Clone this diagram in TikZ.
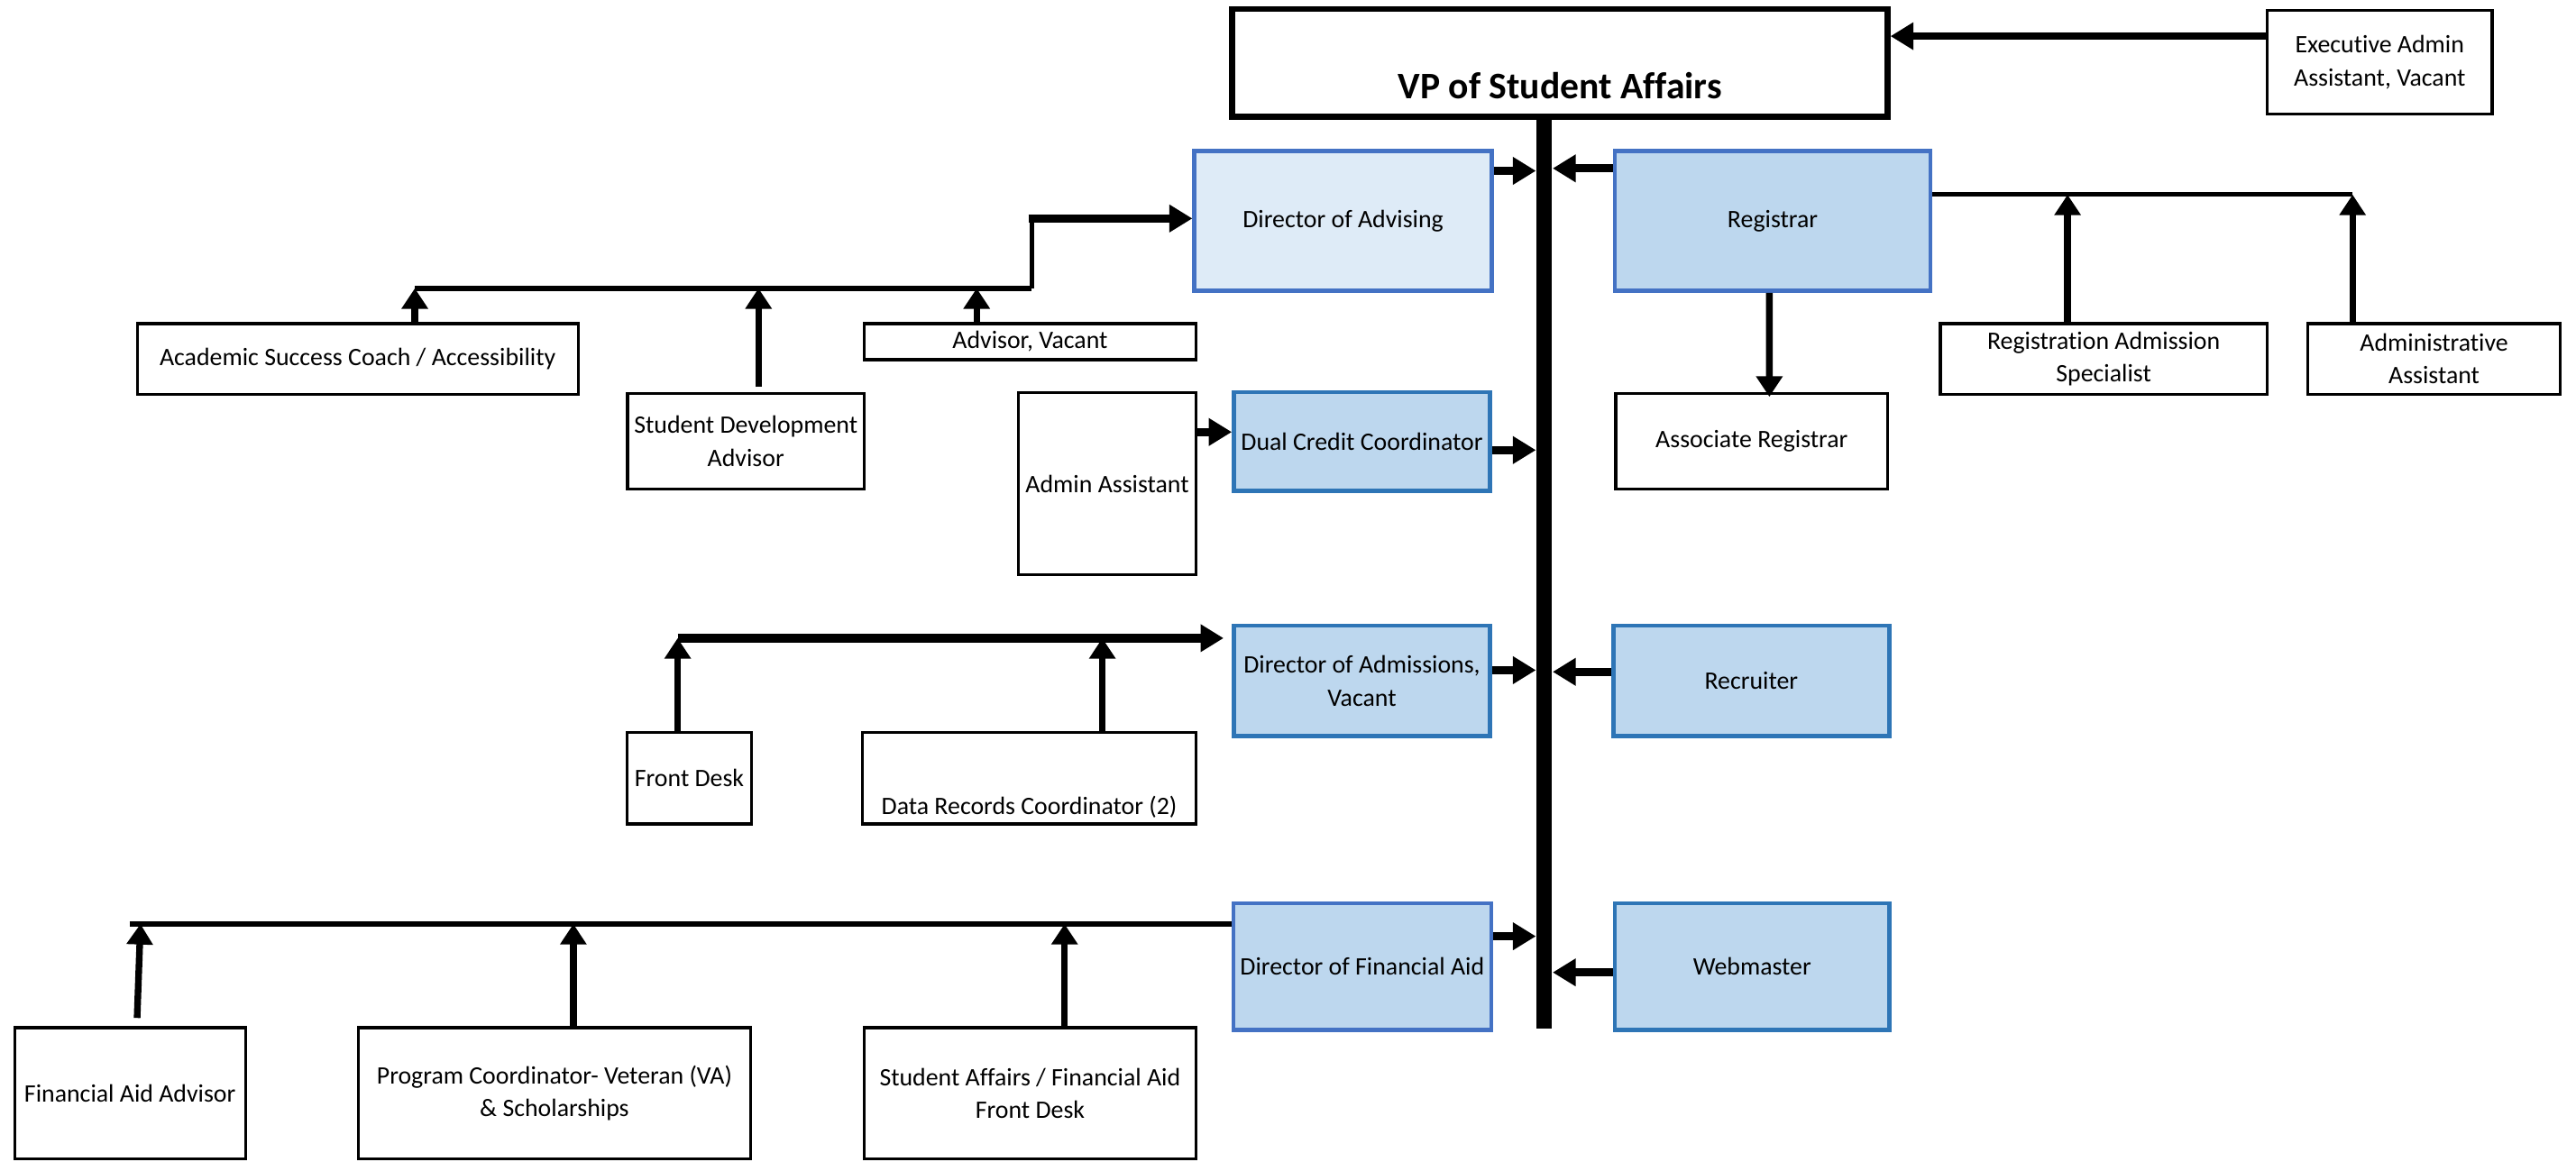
\documentclass[tikz,border=0pt]{standalone}
\usepackage{fontspec}
\setmainfont{Carlito}[Ligatures=NoCommon]
\usetikzlibrary{arrows.meta}
\definecolor{edgeblue}{HTML}{4472C4}
\definecolor{edgeteal}{HTML}{2E75B6}
\definecolor{paleblue}{HTML}{DEEBF7}
\definecolor{softblue}{HTML}{BDD7EE}
\newcommand{\boxfont}{\fontsize{8.7}{11.4}\selectfont}
\tikzset{
  post/.style={draw, line width=1pt, inner sep=0pt, align=center, font=\boxfont},
  lead/.style={post, line width=1.4pt, draw=edgeblue, fill=softblue},
  leadteal/.style={lead, draw=edgeteal},
  feed/.style={line width=2.7pt, -{Triangle[length=0.28cm,width=0.32cm]}},
  rise/.style={line width=2.3pt, -{Triangle[length=0.25cm,width=0.31cm]}},
  rail/.style={line width=1.6pt}
}
\begin{document}
\begin{tikzpicture}[x=0.02cm, y=-0.02cm]
	\useasboundingbox (0,0) rectangle (1568,707.4);
	% top
	\node [post, line width=2pt, minimum width=7.98cm, minimum height=1.31cm, font=\fontsize{13}{15}\selectfont\bfseries, text height=0.87cm, text depth=0pt] (vp) at (949.5,38.25) {VP of Student Affairs};
	\node [post, minimum width=2.74cm, minimum height=1.26cm] (exec) at (1448.5,38) {Executive Admin\\Assistant, Vacant};
	\node [fill, inner sep=0pt, minimum width=0.19cm, minimum height=11.1cm] (spine) at (940,348.5) {};
	% directors and staff on the line
	\node [lead, fill=paleblue, minimum width=3.62cm, minimum height=1.7cm] (diradv) at (817.5,134.5) {Director of Advising};
	\node [lead, minimum width=3.84cm, minimum height=1.7cm] (reg) at (1079,134.5) {Registrar};
	\node [leadteal, minimum width=3.12cm, minimum height=1.2cm] (dcc) at (829,268.7) {Dual Credit Coordinator};
	\node [leadteal, minimum width=3.12cm, minimum height=1.34cm] (diradm) at (829,414.5) {Director of Admissions,\\Vacant};
	\node [leadteal, minimum width=3.36cm, minimum height=1.34cm] (rec) at (1066,414.5) {Recruiter};
	\node [lead, minimum width=3.14cm, minimum height=1.54cm] (dfa) at (829.2,588.5) {Director of Financial Aid};
	\node [leadteal, minimum width=3.34cm, minimum height=1.54cm] (web) at (1066.5,588.5) {Webmaster};
	% registrar side
	\node [post, minimum width=3.98cm, minimum height=0.86cm] (ras) at (1280.5,218.5) {Registration Admission\\Specialist};
	\node [post, minimum width=3.08cm, minimum height=0.86cm] (aa) at (1481.6,218.5) {Administrative\\Assistant};
	\node [post, minimum width=3.31cm, minimum height=1.17cm] (areg) at (1066.25,268.7) {Associate Registrar};
	% advising side
	\node [post, minimum width=5.37cm, minimum height=0.86cm] (asc) at (217.7,218.5) {Academic Success Coach / Accessibility};
	\node [post, minimum width=2.88cm, minimum height=1.17cm] (sda) at (454,268.7) {Student Development\\Advisor};
	\node [post, minimum width=4.04cm, minimum height=0.44cm] (av) at (627,208) {Advisor, Vacant};
	\node [post, minimum width=2.16cm, minimum height=2.22cm] (adm) at (674,294.5) {Admin Assistant};
	% admissions side
	\node [post, minimum width=1.52cm, minimum height=1.11cm] (fd) at (419.6,473.85) {Front Desk};
	\node [post, minimum width=4.06cm, minimum height=1.11cm, text height=0.88cm, text depth=0pt] (drc) at (626.5,473.85) {Data Records Coordinator (2)};
	% financial aid side
	\node [post, minimum width=2.81cm, minimum height=1.6cm] (faa) at (79.15,665.6) {Financial Aid Advisor};
	\node [post, minimum width=4.78cm, minimum height=1.6cm] (pc) at (337.5,665.6) {Program Coordinator- Veteran (VA)\\\& Scholarships};
	\node [post, minimum width=4.04cm, minimum height=1.6cm] (safa) at (627,665.6) {Student Affairs / Financial Aid\\Front Desk};

	\draw [feed] (exec.west |- 0,22) -- (vp.east |- 0,22);
	\draw [feed] (diradv.east |- 0,104) -- (spine.west |- 0,104);
	\draw [feed] (reg.west |- 0,102.5) -- (spine.east |- 0,102.5);
	\draw [feed] (dcc.east |- 0,274) -- (spine.west |- 0,274);
	\draw [feed] (adm.east |- 0,263) -- (dcc.west |- 0,263);
	\draw [feed] (diradm.east |- 0,408) -- (spine.west |- 0,408);
	\draw [feed] (rec.west |- 0,409) -- (spine.east |- 0,409);
	\draw [feed] (dfa.east |- 0,570) -- (spine.west |- 0,570);
	\draw [feed] (web.west |- 0,592) -- (spine.east |- 0,592);

	% registrar branch
	\coordinate (regbus) at (1432,118.5);
	\draw [rail] (reg.east |- regbus) -- (regbus);
	\draw [rise] (aa.north -| regbus) -- (regbus);
	\draw [rise] ([xshift=-0.44cm]ras.north) -- ([xshift=-0.44cm]ras.north |- regbus);
	\draw [rise] ([xshift=-0.04cm]reg.south) -- ([xshift=0.215cm,yshift=-0.06cm]areg.north);

	% advising branch
	\coordinate (advbus) at (252.5,175.5);
	\coordinate (advjog) at (628,175.5);
	\coordinate (advtop) at (626,133);
	\draw [rail, line width=1.9pt] (advbus) -- (advjog);
	\draw [rail] (advjog) -- (advjog |- advtop);
	\draw [feed] (advtop) -- (diradv.west |- advtop);
	\draw [rise] (asc.north -| advbus) -- (advbus);
	\draw [rise] ([xshift=0.154cm,yshift=0.06cm]sda.north) -- ([xshift=0.154cm]sda.north |- advbus);
	\draw [rise] ([xshift=-0.65cm]av.north) -- ([xshift=-0.65cm]av.north |- advbus);

	% admissions branch
	\coordinate (admbus) at (412.5,388.5);
	\draw [feed, line width=3pt, shorten >=0.1cm] (admbus) -- (diradm.west |- admbus);
	\draw [rise] (fd.north -| admbus) -- (admbus);
	\draw [rise] ([xshift=0.89cm]drc.north) -- ([xshift=0.89cm]drc.north |- admbus);

	% financial aid branch
	\coordinate (fabus) at (79,562.5);
	\draw [rail, line width=1.9pt] (fabus) -- (dfa.west |- fabus);
	\draw [rise] ([xshift=0.086cm,yshift=0.1cm]faa.north) -- ([xshift=0.13cm]fabus);
	\draw [rise] ([xshift=0.23cm]pc.north) -- ([xshift=0.23cm]pc.north |- fabus);
	\draw [rise] ([xshift=0.42cm]safa.north) -- ([xshift=0.42cm]safa.north |- fabus);
\end{tikzpicture}
\end{document}
